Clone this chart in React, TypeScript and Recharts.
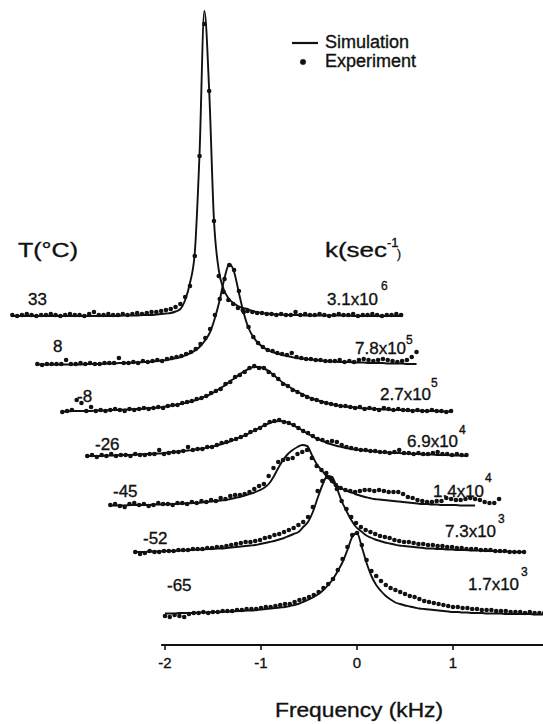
import { ComposedChart, Line, ReferenceLine, Scatter, XAxis, YAxis } from "recharts";

const FONT = "'Liberation Sans', Arial, Helvetica, sans-serif";
const INK = "#111";

// Frequency grid (kHz), relative to each trace's own origin.
const FREQ = [
  -2.0, -1.95, -1.9, -1.85, -1.8, -1.75, -1.7, -1.65, -1.6, -1.55,
  -1.5, -1.45, -1.4, -1.35, -1.3, -1.25, -1.2, -1.15, -1.1, -1.05,
  -1.0, -0.95, -0.9, -0.85, -0.8, -0.75, -0.7, -0.65, -0.6, -0.55,
  -0.5, -0.45, -0.4, -0.35, -0.3, -0.25, -0.2, -0.15, -0.1, -0.05,
  0.0, 0.05, 0.1, 0.15, 0.2, 0.25, 0.3, 0.35, 0.4, 0.45,
  0.5, 0.55, 0.6, 0.65, 0.7, 0.75, 0.8, 0.85, 0.9, 0.95,
  1.0, 1.05, 1.1, 1.15, 1.2, 1.25, 1.3, 1.35, 1.4, 1.45,
  1.5, 1.55, 1.6, 1.65, 1.7, 1.75, 1.8, 1.85, 1.9, 1.95,
  2.0, 2.05,
];

const TEMPS = ["33", "8", "-8", "-26", "-45", "-52", "-65"];
const RATE_BASE = ["3.1x10", "7.8x10", "2.7x10", "6.9x10", "1.4x10", "7.3x10", "1.7x10"];
const RATE_EXP = ["6", "5", "5", "4", "4", "3", "3"];

// stacking of the traces: horizontal shift (kHz) and vertical offset (a.u.)
const SHIFT = [-1.59, -1.33, -1.07, -0.81, -0.57, -0.31, 0];
const OFFSET = [329, 280, 233, 188, 139, 92, 30];

const TICKS = [-2, -1, 0, 1];

// intensities (a.u.) on FREQ, simulation and experiment
const SIM_33 = [
  0, 0, 0, 0, 0, 0, 0, 0, 0, 0, 0, 0, 0, 0, 0, 0, 0, 0, 0, 0,
  0, 0, 0, 0.5, 0.5, 0.5, 0.5, 1, 1, 1,
  1.5, 2, 2.5, 3, 4.5, 7, 16, 33, 63, 163, 305, 226, 96, 46, 27, 18, 13, 10, 8, 7, 5, 4, 3, 2.5, 2,
  1.5, 1.5, 1, 1, 1, 1,
  0.5, 0.5, 0.5, 0.5, 0.5, 0.5, 0.5, 0.5, 0.5, 0.5,
  0, 0, 0, 0, 0, 0, 0, 0, 0, 0, 0,
];
const EXP_33 = [
  1, 0, 1, 2, 1, 0, 1, 1, 2, 1, 0, 1, 2, 1, 1, 0, 2, 4, 1, 1,
  2, 1, 1, 2, 1, 2, 3, 2, 3, 4,
  4, 5, 6, 7, 9, 12, 19, 30, 60, 160, 292, 225, 95, 40, 24, 16, 12, 8, 6, 5, 4, 3, 3, 2, 2,
  1, 2, 1, 1, 4, 1,
  2, 1, 1, 2, 1, 0, 1, 2, 1, 1,
  2, 0, 1, 1, 2, 1, 0, 1, 1, 2, 1,
];

const SIM_8 = [
  0.5, 0.5, 0.5, 0.5, 0.5, 0.5, 0.5, 0.5, 0.5, 0.5, 1, 1, 1, 1, 1.5, 1.5, 1.5, 2, 2, 2,
  2.5, 2.5, 3, 3, 3.5, 4, 4.5, 5, 6, 7,
  8, 10, 12, 15, 19, 25, 33, 47, 65, 87, 101, 93, 72, 52, 37, 28, 22, 18, 15, 13, 11.5, 10, 9, 8, 7,
  6.5, 6, 5.5, 5, 4.5, 4,
  3.5, 3.5, 3, 3, 3, 2.5, 2.5, 2.5, 2, 2,
  2, 2, 1.5, 1.5, 1.5, 1.5, 1, 1, 1, null, null,
];
const EXP_8 = [
  1, 0, 1, 1, 1, 1, 5, 1, 1, 2, 1, 2, 1, 1, 2, 2, 2, 7, 2, 2,
  3, 2, 4, 3, 4, 5, 4, 6, 7, 8,
  9, 11, 13, 16, 21, 27, 36, 50, 66, 86, 100, 95, 74, 53, 38, 28, 22, 18, 15, 14, 12, 11, 10, 12, 8,
  7, 6, 6, 5, 5, 4,
  4, 4, 5, 3, 4, 3, 5, 6, 5, 4,
  5, 6, 5, 4, 3, 4, 5, 8, 13, null, null,
];

const SIM_M8 = [
  0.5, 0.5, 1, 1, 1, 1, 1, 1.5, 1.5, 1.5, 2, 2, 2, 2.5, 2.5, 3, 3, 3.5, 4, 4,
  4.5, 5, 6, 6.5, 7.5, 8.5, 9.5, 11, 12, 14,
  16, 18, 21, 24, 27, 31, 34, 38, 41, 43.5, 45, 45, 43.5, 41, 37, 33, 29, 26, 23, 20, 18, 15.5, 13.5, 12, 10.5,
  9, 8, 7, 6, 5.5, 5,
  4.5, 4, 3.5, 3.5, 3, 3, 2.5, 2.5, 2, 2,
  2, 1.5, 1.5, 1.5, 1, 1, 1, 1, 0.5, 0.5, 0.5,
];
const EXP_M8 = [
  0, 1, 2, 12, 9, 1, 5, 1, 2, 1, 2, 3, 2, 1, 3, 2, 3, 4, 3, 4,
  5, 4, 6, 7, 7, 9, 10, 11, 13, 14,
  16, 19, 21, 23, 28, 30, 35, 37, 40, 44, 46, 44, 44, 40, 37, 33, 28, 26, 22, 20, 17, 15, 13, 12, 10,
  9, 8, 7, 6, 6, 5,
  4, 5, 3, 4, 3, 2, 4, 3, 2, 3,
  2, 2, 1, 2, 1, 1, 2, 1, 1, 0, 1,
];

const SIM_M26 = [
  1, 1, 1, 1, 1.5, 1.5, 1.5, 2, 2, 2, 2.5, 2.5, 3, 3, 3.5, 3.5, 4, 4.5, 5, 5.5,
  6, 6.5, 7, 8, 8.5, 9.5, 10.5, 11.5, 13, 14.5,
  16, 18, 20, 22, 24.5, 27, 29.5, 32, 34, 35.5, 36, 35.5, 34, 31.5, 29, 26, 23, 20.5, 18, 16, 14, 12.5, 11, 10, 9,
  8, 7.5, 7, 6.5, 6, 5.5,
  5, 4.5, 4.5, 4, 4, 3.5, 3.5, 3, 3, 2.5,
  2.5, 2.5, 2, 2, 2, 1.5, 1.5, 1.5, 1, null, null,
];
const EXP_M26 = [
  1, 2, 0, 2, 1, 3, 1, 2, 2, 1, 3, 2, 2, 3, 3, 7, 3, 4, 5, 5,
  6, 10, 7, 8, 8, 10, 10, 12, 14, 15,
  17, 18, 20, 22, 25, 27, 29, 32, 35, 36, 37, 35, 34, 32, 29, 26, 24, 21, 18, 17, 15, 16, 15, 12, 10,
  9, 8, 7, 7, 6, 6,
  5, 5, 4, 5, 7, 4, 4, 3, 4, 3,
  3, 4, 5, 3, 3, 2, 3, 2, 2, null, null,
];

const SIM_M45 = [
  0.5, 0.5, 0.5, 0.5, 1, 1, 1, 1, 1, 1.5, 1.5, 1.5, 2, 2, 2, 2.5, 2.5, 3, 3, 3.5,
  4, 4.5, 5, 5.5, 6, 7, 8, 9, 10.5, 12,
  13.5, 15.5, 18, 22, 29, 38, 46, 52, 56, 59, 61, 60, 51, 42, 36, 30, 25, 21, 18, 15.5, 14, 12, 10.5, 9, 8,
  7, 6.5, 6, 5.5, 5, 4.5,
  4, 3.5, 3, 2.5, 2, 2, 1.5, 1.5, 1, 1,
  1, 1, 0.5, 0.5, 0.5, 0.5, null, null, null, null, null,
];
const EXP_M45 = [
  1, 2, 0, -1, 2, 3, 1, 2, 0, 1, 3, 2, 2, 1, 3, 3, 2, 4, 3, 5,
  4, 6, 5, 8, 7, 10, 11, 11, 12, 14,
  17, 20, 22, 30, 38, 44, 46, 47, 48, 52, 54, 56, 48, 40, 36, 33, 28, 21, 18, 16, 15, 14, 15, 16, 16,
  15, 16, 15, 14, 14, 14,
  12, 9, 8, 6, 5, 4, 4, 5, 5, 8,
  7, 6, 6, 7, 8, 7, 6, 4, 3, 3, 7,
];

const SIM_M52 = [
  1, 1, 1, 1.5, 1.5, 1.5, 2, 2, 2, 2.5, 2.5, 3, 3, 3.5, 3.5, 4, 4, 4.5, 4.5, 5,
  5.5, 6, 6.5, 7, 7.5, 8, 9, 10, 11, 12,
  13.5, 15, 17, 19, 21, 26, 31, 41, 55, 68, 77, 76, 65, 52, 42, 33, 26, 22, 18, 15.5, 13.5, 12, 10.5, 9.5, 8.5,
  7.5, 7, 6.5, 6, 5.5, 5,
  4.5, 4.5, 4, 4, 3.5, 3.5, 3, 3, 3, 2.5,
  2.5, 2.5, 2, 2, 2, 1.5, 1.5, 1.5, 1, 1, 1,
];
const EXP_M52 = [
  1, -1, 0, 2, 1, 1, 2, 2, 2, 3, 3, 3, 4, 4, 4, 5, 5, 6, 6, 7,
  8, 9, 10, 11, 11, 12, 13, 15, 16, 18,
  19, 21, 23, 25, 28, 31, 36, 46, 62, 72, 76, 72, 64, 52, 44, 36, 30, 26, 23, 21, 19, 17, 16, 15, 13,
  12, 11, 11, 10, 9, 9,
  8, 8, 7, 7, 6, 6, 5, 5, 4, 4,
  4, 3, 3, 3, 2, 2, 2, 1, 1, 1, 1,
];

const SIM_M65 = [
  1.5, 1.5, 1.5, 2, 2, 2, 2, 2.5, 2.5, 2.5, 3, 3, 3, 3.5, 3.5, 4, 4, 4.5, 4.5, 5,
  5.5, 6, 6.5, 7, 7.5, 8, 9, 10, 11.5, 13.5,
  15.5, 18, 21, 25, 30, 36, 44, 53, 65, 78, 82, 68, 52, 39, 30, 24, 19, 15.5, 12.5, 11, 9.5, 8.5, 7.5, 6.5, 6,
  5.5, 5, 4.5, 4, 3.5, 3,
  3, 2.5, 2.5, 2, 2, 2, 1.5, 1.5, 1.5, 1.5,
  1, 1, 1, 1, 1, 1, 0.5, 0.5, 0.5, 0.5, 0.5,
];
const EXP_M65 = [
  -1, -2, 0, -1, -2, 1, 2, 2, 3, 2, 3, 3, 4, 4, 4, 5, 5, 6, 6, 6,
  7, 8, 8, 9, 10, 11, 11, 13, 15, 16,
  18, 20, 23, 27, 31, 36, 45, 56, 68, 80, 82, 70, 55, 44, 39, 34, 30, 27, 25, 23, 21, 19, 18, 16, 14,
  13, 12, 11, 10, 9, 8,
  8, 7, 7, 6, 6, 5, 5, 5, 4, 4,
  4, 3, 3, 3, 2, 3, 2, 2, 2, 1, 1,
];

const SIM = [SIM_33, SIM_8, SIM_M8, SIM_M26, SIM_M45, SIM_M52, SIM_M65];
const EXP = [EXP_33, EXP_8, EXP_M8, EXP_M26, EXP_M45, EXP_M52, EXP_M65];

type Pt = { x: number; y: number | null };

const TRACES = TEMPS.map((_, i) => {
  const sim: Pt[] = [];
  const exp: Pt[] = [];
  FREQ.forEach((f, j) => {
    const x = f + SHIFT[i];
    const s = SIM[i][j];
    const e = EXP[i][j];
    sim.push({ x, y: s == null ? null : s + OFFSET[i] });
    if (e != null) exp.push({ x, y: e + OFFSET[i] });
  });
  return { sim, exp };
});

// label placement (px) for the temperature / rate annotations
const T_POS = [[28, 305], [53, 352], [77, 402], [95, 450], [113, 497], [143, 544], [167, 591]];
const K_POS = [
  [327, 305, 381, 290],
  [355, 354, 406, 344],
  [380, 400, 431, 387],
  [407, 447, 459, 434],
  [433, 497, 485, 482],
  [445, 537, 498, 523],
  [468, 590, 521, 576],
];

const Dot = (p: any) =>
  p.cx == null || p.cy == null ? <g /> : <circle cx={p.cx} cy={p.cy} r={2.3} fill={INK} />;

// printed text looks a touch heavier than plain Liberation Sans
const TXT = { stroke: INK, strokeWidth: 0.35 };

export default function App() {
  return (
    <div style={{ position: "absolute", left: 0, top: 0, width: 543, height: 724, background: "#fff" }}>
      <ComposedChart
        width={543}
        height={724}
        margin={{ top: 0, right: 0, bottom: 49, left: 0 }}
      >
        <XAxis
          type="number"
          dataKey="x"
          domain={[-3.71875, 1.9375]}
          allowDataOverflow
          ticks={TICKS}
          axisLine={false}
          tickLine={{ stroke: INK, strokeWidth: 1.6 }}
          tickSize={5}
          tickMargin={7}
          height={30}
          tick={{ fill: INK, fontSize: 15, fontFamily: FONT, ...TXT }}
        />
        <YAxis type="number" dataKey="y" domain={[0, 645]} allowDataOverflow hide />
        <ReferenceLine
          segment={[{ x: -2.04, y: 0 }, { x: 1.9375, y: 0 }]}
          stroke={INK}
          strokeWidth={1.8}
        />
        {TRACES.map((t, i) => (
          <Line
            key={"sim" + i}
            data={t.sim}
            dataKey="y"
            type="monotone"
            stroke={INK}
            strokeWidth={1.9}
            dot={false}
            activeDot={false}
            legendType="none"
            isAnimationActive={false}
          />
        ))}
        {TRACES.map((t, i) => (
          <Scatter
            key={"exp" + i}
            data={t.exp}
            dataKey="y"
            shape={Dot}
            legendType="none"
            isAnimationActive={false}
          />
        ))}
      </ComposedChart>
      <svg
        width={543}
        height={724}
        style={{ position: "absolute", left: 0, top: 0, pointerEvents: "none" }}
        fontFamily={FONT}
        fill={INK}
        {...TXT}
      >
        {/* legend */}
        <line x1={292} y1={43} x2={318} y2={43} stroke={INK} strokeWidth={2.2} />
        <text x={325} y={48} fontSize={18}>Simulation</text>
        <circle cx={303} cy={62} r={2.8} fill={INK} />
        <text x={325} y={67} fontSize={18}>Experiment</text>

        {/* column headers */}
        <text x={18} y={257} fontSize={21} textLength={60} lengthAdjust="spacingAndGlyphs">
          T(°C)
        </text>
        <text x={325} y={257} fontSize={21} textLength={62} lengthAdjust="spacingAndGlyphs">
          k(sec
        </text>
        <text x={387} y={247} fontSize={13}>-1</text>
        <text x={397} y={258} fontSize={12}>)</text>

        {TEMPS.map((t, i) => (
          <text key={"t" + t} x={T_POS[i][0]} y={T_POS[i][1]} fontSize={17}>
            {t}
          </text>
        ))}
        {RATE_BASE.map((r, i) => (
          <g key={"k" + i}>
            <text x={K_POS[i][0]} y={K_POS[i][1]} fontSize={17}>
              {r}
            </text>
            <text x={K_POS[i][2]} y={K_POS[i][3]} fontSize={12}>
              {RATE_EXP[i]}
            </text>
          </g>
        ))}

        <text x={359} y={717} fontSize={20} textAnchor="middle" textLength={168} lengthAdjust="spacingAndGlyphs">
          Frequency (kHz)
        </text>
      </svg>
    </div>
  );
}
